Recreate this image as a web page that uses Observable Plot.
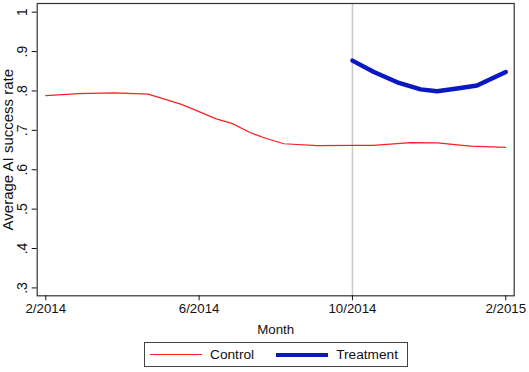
<!DOCTYPE html>
<html>
<head>
<meta charset="utf-8">
<script src="https://cdn.jsdelivr.net/npm/d3@7"></script>
<script src="https://cdn.jsdelivr.net/npm/@observablehq/plot@0.6"></script>
<style>
  html, body { margin: 0; padding: 0; background: #fff; }
  body { width: 529px; height: 372px; position: relative; font-family: "Liberation Sans", Arial, sans-serif; }
  #legend { position: absolute; left: 144px; top: 342px; width: 262px; height: 23px; border: 1px solid #444;
            display: flex; align-items: center; font-size: 13.7px; color: #111; box-sizing: content-box; }
  .sw { display: inline-block; width: 52px; margin-left: 5px; margin-right: 8px; }
</style>
</head>
<body>
<div id="chart"></div>
<div id="legend">
  <span class="sw" style="border-top:1.2px solid #ff2020;"></span><span>Control</span>
  <span class="sw" style="border-top:4.5px solid #0a18c4; margin-left:22px;"></span><span>Treatment</span>
</div>
<script>
// Month index: 0 = 2/2014, 12 = 2/2015
const controlMonths = [0, 0.85, 1.79, 2.67, 3.54, 4.45, 4.87, 5.34, 5.73, 6.21, 7.08, 8.0, 8.55, 9.51, 10.21, 11.08, 12.0];
const controlValues = [0.788, 0.793, 0.795, 0.792, 0.766, 0.729, 0.717, 0.694, 0.680, 0.666, 0.661, 0.662, 0.662, 0.669, 0.668, 0.660, 0.657];
const treatmentMonths = [8.0, 8.56, 9.17, 9.78, 10.21, 10.73, 11.25, 12.0];
const treatmentValues = [0.877, 0.848, 0.822, 0.804, 0.799, 0.806, 0.814, 0.848];
const xTickValues = [0, 4, 8, 12];
const xTickLabels = ["2/2014", "6/2014", "10/2014", "2/2015"];
const yTickValues = [0.3, 0.4, 0.5, 0.6, 0.7, 0.8, 0.9, 1];
const yTickLabels = [".3", ".4", ".5", ".6", ".7", ".8", ".9", "1"];
const treatmentStart = [8];

const control = controlMonths.map((m, i) => ({month: m, value: controlValues[i]}));
const treatment = treatmentMonths.map((m, i) => ({month: m, value: treatmentValues[i]}));
const yLabelOf = (d) => yTickLabels[yTickValues.findIndex((v) => Math.abs(v - d) < 1e-9)];
const xLabelOf = (d) => xTickLabels[xTickValues.indexOf(d)];

const chart = Plot.plot({
  width: 529,
  height: 337,
  marginLeft: 36.7,
  marginRight: 15.3,
  marginTop: 3,
  marginBottom: 41.7,
  style: {fontFamily: '"Liberation Sans", Arial, sans-serif', fontSize: "13px", color: "#111", background: "#fff"},
  x: {domain: [-0.224, 12.22]},
  y: {domain: [0.280, 1.022]},
  marks: [
    Plot.ruleX(treatmentStart, {stroke: "#c8c8c8", strokeWidth: 1.5}),
    Plot.line(control, {x: "month", y: "value", stroke: "#ff2020", strokeWidth: 1.2}),
    Plot.line(treatment, {x: "month", y: "value", stroke: "#0a18c4", strokeWidth: 4.5, strokeLinejoin: "round"}),
    Plot.frame({stroke: "#333", strokeWidth: 1.2}),
    Plot.axisX({ticks: xTickValues, tickFormat: xLabelOf,
      tickSize: 5, tickPadding: 3, fontSize: 13.3, label: null}),
    Plot.axisX({ticks: [], label: "Month", labelAnchor: "center", labelArrow: "none", labelOffset: 38, fontSize: 13.3}),
    Plot.axisY({ticks: yTickValues, tickFormat: yLabelOf,
      tickSize: 5, tickPadding: 5, tickRotate: -90, fontSize: 14, label: null}),
    Plot.axisY({ticks: [], label: "Average AI success rate", labelAnchor: "center", labelArrow: "none",
      labelOffset: 35, fontSize: 15})
  ]
});
document.getElementById("chart").appendChild(chart);
</script>
</body>
</html>
